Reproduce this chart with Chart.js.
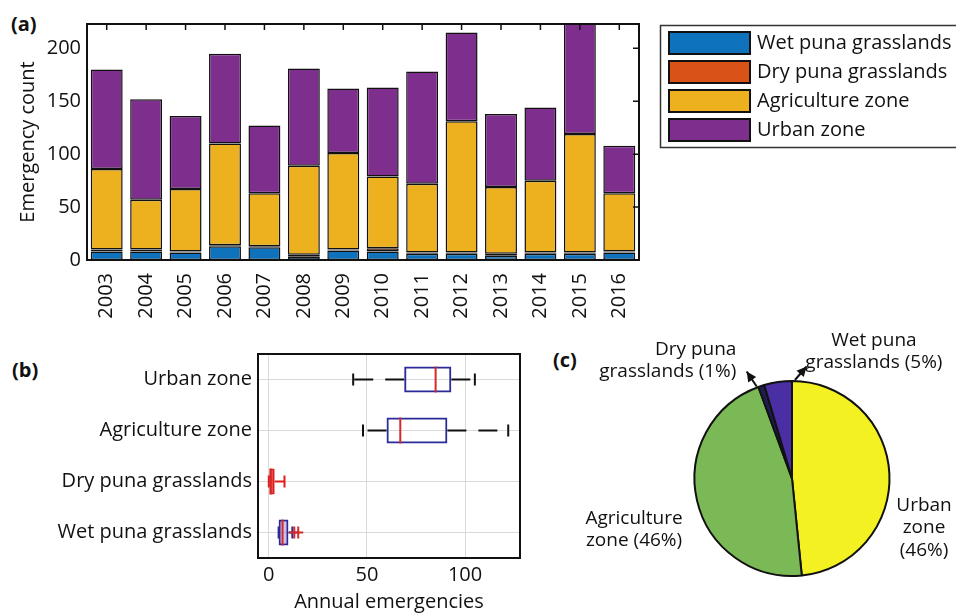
<!DOCTYPE html>
<html>
<head>
<meta charset="utf-8">
<script src="https://cdn.jsdelivr.net/npm/chart.js@4.4.1/dist/chart.umd.min.js"></script>
<style>
  body { margin: 0; background: #fff; width: 956px; height: 614px; position: relative; overflow: hidden; font-family: 'Open Sans', sans-serif; }
  canvas { position: absolute; }
  .panel { position: absolute; font-weight: bold; font-size: 20px; line-height: 1; color: #111; }
</style>
</head>
<body>
<div class="panel" style="left:11px; top:14px">(a)</div>
<div class="panel" style="left:12px; top:360px">(b)</div>
<div class="panel" style="left:553px; top:350px">(c)</div>
<canvas id="bars" width="956" height="318" style="left:0; top:0"></canvas>
<canvas id="box" width="530" height="296" style="left:0; top:318px"></canvas>
<canvas id="pie" width="426" height="296" style="left:530px; top:318px"></canvas>
<script>
  // (a) yearly emergencies by zone
  const years = ['2003', '2004', '2005', '2006', '2007', '2008', '2009', '2010', '2011', '2012', '2013', '2014', '2015', '2016'];
  const wetPuna = [8, 8, 7, 13, 12, 3, 9, 8, 6, 6, 4, 6, 6, 7];
  const dryPuna = [2, 2, 1, 1, 1, 2, 1, 3, 1, 1, 2, 1, 1, 1];
  const agriculture = [76, 47, 59, 96, 50, 84, 91, 68, 65, 124, 63, 68, 112, 55];
  const urban = [94, 95, 69, 85, 64, 92, 61, 84, 106, 84, 69, 69, 105, 45];
  const countTicks = [0, 50, 100, 150, 200];

  // (b) box plot stats per zone
  const zones = ['Urban zone', 'Agriculture zone', 'Dry puna grasslands', 'Wet puna grasslands'];
  const boxLow = [43, 48, 0, 5];
  const boxQ1 = [69, 60, 0, 5];
  const boxMedian = [85, 67, 1, 7];
  const boxQ3 = [93, 91, 3, 10];
  const boxHigh = [105, 122, 8, 12];
  const boxOutliers = [[], [], [], [13, 15]];
  const emergencyTicks = [0, 50, 100];

  // (c) share of all emergencies
  const pieZones = ['Urban zone', 'Agriculture zone', 'Dry puna grasslands', 'Wet puna grasslands'];
  const pieShares = [48.4, 46, 1, 4.6];
  const pieText = [['Urban', 'zone', '(46%)'], ['Agriculture', 'zone (46%)'], ['Dry puna', 'grasslands (1%)'], ['Wet puna', 'grasslands (5%)']];

  const FONT = "'Open Sans', sans-serif";
  Chart.defaults.font.family = FONT;
  Chart.defaults.color = '#111';

  // frame + inward ticks, like the matlab axes
  const frameA = {
    id: 'frameA',
    afterDatasetsDraw(chart) {
      const {ctx, chartArea: a, scales: {x, y}} = chart;
      ctx.save();
      ctx.strokeStyle = '#111';
      ctx.lineWidth = 1.5;
      ctx.beginPath();
      y.ticks.forEach(t => {
        const py = y.getPixelForValue(t.value);
        ctx.moveTo(a.right, py); ctx.lineTo(a.right - 6, py);
      });
      x.ticks.forEach((t, i) => {
        const px = x.getPixelForTick(i);
        ctx.moveTo(px, a.top); ctx.lineTo(px, a.top + 6);
      });
      ctx.stroke();
      ctx.lineWidth = 2;
      ctx.strokeRect(a.left, a.top, a.width, a.height);
      ctx.restore();
    }
  };

  const legendA = {
    id: 'legendA',
    afterDraw(chart) {
      const ctx = chart.ctx;
      ctx.save();
      ctx.strokeStyle = '#333';
      ctx.lineWidth = 1.5;
      ctx.strokeRect(660.5, 25.5, 310, 122);
      ctx.font = '20px ' + FONT;
      ctx.textBaseline = 'middle';
      chart.data.datasets.forEach((ds, i) => {
        const cy = 43 + i * 29;
        ctx.fillStyle = ds.backgroundColor;
        ctx.fillRect(669, cy - 11, 81, 22);
        ctx.strokeStyle = '#111';
        ctx.lineWidth = 2;
        ctx.strokeRect(669, cy - 11, 81, 22);
        ctx.fillStyle = '#111';
        ctx.fillText(ds.label, 757, cy);
      });
      ctx.restore();
    }
  };

  new Chart(document.getElementById('bars'), {
    type: 'bar',
    data: {
      labels: years,
      datasets: [
        { label: 'Wet puna grasslands', data: wetPuna, backgroundColor: '#0f72bd' },
        { label: 'Dry puna grasslands', data: dryPuna, backgroundColor: '#d95319' },
        { label: 'Agriculture zone', data: agriculture, backgroundColor: '#edb120' },
        { label: 'Urban zone', data: urban, backgroundColor: '#7e2f8e' }
      ]
    },
    options: {
      responsive: false,
      animation: false,
      layout: { padding: { top: 24, right: 317, left: 0, bottom: 0 } },
      datasets: { bar: { borderColor: '#111', borderWidth: 1.5, borderSkipped: false, barPercentage: 0.81, categoryPercentage: 1 } },
      plugins: { legend: { display: false }, tooltip: { enabled: false } },
      scales: {
        x: {
          stacked: true,
          grid: { display: false },
          border: { display: false },
          ticks: { font: { size: 20 }, minRotation: 90, maxRotation: 90, padding: 5, autoSkip: false },
          afterFit: s => { s.height = 318 - 260; }
        },
        y: {
          stacked: true,
          min: 0,
          max: 223,
          afterBuildTicks: s => { s.ticks = countTicks.map(v => ({ value: v })); },
          grid: { display: false, drawTicks: false },
          border: { display: false },
          ticks: { font: { size: 20 }, padding: 6 },
          title: { display: true, text: 'Emergency count', font: { size: 20 }, padding: { top: 16, bottom: 0 } },
          afterFit: s => { s.width = 87; }
        }
      }
    },
    plugins: [frameA, legendA]
  });

  // box plot drawn as floating bars (Q1..Q3) plus whiskers / medians
  const boxEdge = ['#2a2a9a', '#2a2a9a', '#e01c1c', '#2a2a9a'];
  const boxFill = ['rgba(0,0,0,0)', 'rgba(0,0,0,0)', '#e01c1c', 'rgba(130,70,170,0.35)'];
  const whiskerColor = ['#111', '#111', '#e01c1c', '#2a2a9a'];

  const boxPlot = {
    id: 'boxPlot',
    afterDatasetsDraw(chart) {
      const {ctx, chartArea: a, scales: {x, y}} = chart;
      const meta = chart.getDatasetMeta(0);
      ctx.save();
      zones.forEach((z, i) => {
        const cy = y.getPixelForValue(i);
        const half = meta.data[i].height / 2;
        const q1 = x.getPixelForValue(boxQ1[i]);
        const q3 = x.getPixelForValue(boxQ3[i]);
        const lo = x.getPixelForValue(boxLow[i]);
        const hi = x.getPixelForValue(boxHigh[i]);
        const med = x.getPixelForValue(boxMedian[i]);
        ctx.strokeStyle = whiskerColor[i];
        ctx.lineWidth = 2;
        ctx.setLineDash([19, 12]);
        ctx.beginPath();
        ctx.moveTo(q1, cy); ctx.lineTo(lo, cy);
        ctx.moveTo(q3, cy); ctx.lineTo(hi, cy);
        ctx.stroke();
        ctx.setLineDash([]);
        ctx.beginPath();
        ctx.moveTo(lo, cy - 6); ctx.lineTo(lo, cy + 6);
        ctx.moveTo(hi, cy - 6); ctx.lineTo(hi, cy + 6);
        ctx.stroke();
        ctx.strokeStyle = '#d22a2a';
        ctx.beginPath();
        ctx.moveTo(med, cy - half); ctx.lineTo(med, cy + half);
        ctx.stroke();
        boxOutliers[i].forEach(v => {
          const px = x.getPixelForValue(v);
          ctx.beginPath();
          ctx.moveTo(px - 5, cy); ctx.lineTo(px + 5, cy);
          ctx.moveTo(px, cy - 6); ctx.lineTo(px, cy + 6);
          ctx.stroke();
        });
      });
      ctx.strokeStyle = '#111';
      ctx.lineWidth = 2;
      ctx.strokeRect(a.left, a.top, a.width, a.height);
      ctx.restore();
    }
  };

  new Chart(document.getElementById('box'), {
    type: 'bar',
    data: {
      labels: zones,
      datasets: [{
        data: zones.map((z, i) => [boxQ1[i], boxQ3[i]]),
        backgroundColor: boxFill,
        borderColor: boxEdge,
        borderWidth: 2,
        borderSkipped: false,
        barPercentage: 0.51,
        categoryPercentage: 1
      }]
    },
    options: {
      indexAxis: 'y',
      responsive: false,
      animation: false,
      layout: { padding: { top: 36, right: 10, left: 0, bottom: 0 } },
      plugins: { legend: { display: false }, tooltip: { enabled: false } },
      scales: {
        x: {
          min: -5.5,
          max: 128,
          afterBuildTicks: s => { s.ticks = emergencyTicks.map(v => ({ value: v })); },
          grid: { color: '#dadada', drawTicks: false },
          border: { display: false },
          ticks: { font: { size: 20 }, padding: 5 },
          title: { display: true, text: 'Annual emergencies', font: { size: 20 }, padding: { top: 0, bottom: 0 } },
          afterFit: s => { s.height = 296 - 240; }
        },
        y: {
          grid: { color: '#dadada', offset: false, drawTicks: false },
          border: { display: false },
          ticks: { font: { size: 20 }, padding: 6 },
          afterFit: s => { s.width = 258; }
        }
      }
    },
    plugins: [boxPlot]
  });

  // label anchors in units of the pie radius, measured from the pie centre
  const pieNotes = [
    { dx: 1.354, dy: 0.506, align: 'center' },
    { dx: -1.62, dy: 0.526, align: 'center' },
    { dx: -0.57, dy: -1.207, align: 'right', tail: [-0.362, -0.944], head: [-0.465, -1.097] },
    { dx: 0.84, dy: -1.30, align: 'center', tail: [0.03, -1.01], head: [0.15, -1.149] }
  ];

  function arrow(ctx, x0, y0, x1, y1) {
    const ang = Math.atan2(y1 - y0, x1 - x0);
    ctx.beginPath();
    ctx.moveTo(x0, y0); ctx.lineTo(x1, y1);
    ctx.stroke();
    ctx.beginPath();
    ctx.moveTo(x1, y1);
    ctx.lineTo(x1 - 11 * Math.cos(ang - 0.45), y1 - 11 * Math.sin(ang - 0.45));
    ctx.lineTo(x1 - 11 * Math.cos(ang + 0.45), y1 - 11 * Math.sin(ang + 0.45));
    ctx.closePath();
    ctx.fill();
  }

  const pieLabels = {
    id: 'pieLabels',
    afterDraw(chart) {
      const ctx = chart.ctx;
      const arc = chart.getDatasetMeta(0).data[0];
      const cx = arc.x, cy = arc.y, r = arc.outerRadius;
      ctx.save();
      ctx.font = '19px ' + FONT;
      ctx.fillStyle = '#111';
      ctx.strokeStyle = '#111';
      ctx.lineWidth = 2;
      ctx.textBaseline = 'middle';
      pieNotes.forEach((n, i) => {
        const lines = pieText[i];
        const lh = 22.5;
        const x0 = cx + n.dx * r;
        const y0 = cy + n.dy * r - (lines.length - 1) * lh / 2;
        ctx.textAlign = n.align;
        lines.forEach((t, k) => ctx.fillText(t, x0, y0 + k * lh));
        if (n.tail) {
          arrow(ctx, cx + n.tail[0] * r, cy + n.tail[1] * r, cx + n.head[0] * r, cy + n.head[1] * r);
        }
      });
      ctx.restore();
    }
  };

  new Chart(document.getElementById('pie'), {
    type: 'pie',
    data: {
      labels: pieZones,
      datasets: [{
        data: pieShares,
        backgroundColor: ['#f3f121', '#7bb957', '#1e1c52', '#4a2ea3'],
        borderColor: '#111',
        borderWidth: 2
      }]
    },
    options: {
      responsive: false,
      animation: false,
      layout: { padding: { left: 163.5, right: 65.5, top: 62, bottom: 37 } },
      plugins: { legend: { display: false }, tooltip: { enabled: false } }
    },
    plugins: [pieLabels]
  });
</script>
</body>
</html>
